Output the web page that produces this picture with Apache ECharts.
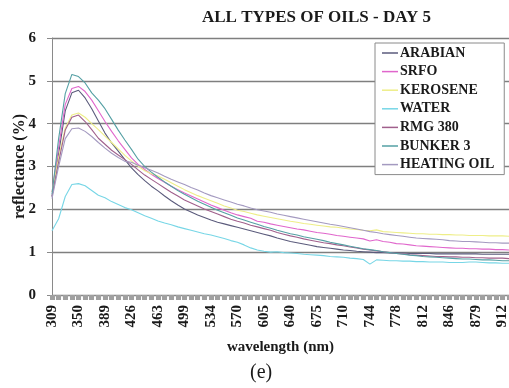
<!DOCTYPE html>
<html>
<head>
<meta charset="utf-8">
<script src="https://cdn.jsdelivr.net/npm/echarts@6/dist/echarts.min.js"></script>
<style>
  html, body { margin: 0; padding: 0; background: #fff; }
  #chart { width: 509px; height: 388px; }
</style>
</head>
<body>
<div id="chart"></div>
<script>
// Wavelength samples (nm); every 4th one is labelled on the axis
const wavelengths = [
  309, 319, 330, 340, 350, 360, 370, 379, 389, 398, 408, 417,
  426, 435, 445, 454, 463, 472, 481, 490, 499, 508, 517, 525,
  534, 543, 552, 561, 570, 579, 588, 596, 605, 614, 623, 631,
  640, 649, 658, 666, 675, 684, 693, 701, 710, 719, 727, 736,
  744, 753, 761, 770, 778, 787, 795, 804, 812, 821, 829, 838,
  846, 854, 863, 871, 879, 887, 896, 904, 912, 921
];

// Reflectance (%) of each sample
const arabian = [
  2.30, 3.30, 4.30, 4.72, 4.78, 4.60, 4.35, 4.06, 3.78, 3.55, 3.36, 3.16,
  2.97, 2.81, 2.67, 2.54, 2.43, 2.31, 2.20, 2.10, 2.01, 1.94, 1.87, 1.81,
  1.75, 1.70, 1.66, 1.62, 1.58, 1.54, 1.50, 1.46, 1.42, 1.38, 1.33, 1.29,
  1.25, 1.22, 1.19, 1.16, 1.13, 1.11, 1.09, 1.07, 1.05, 1.04, 1.02, 1.01,
  1.00, 0.99, 0.99, 0.98, 0.98, 0.98, 0.97, 0.97, 0.97, 0.97, 0.96, 0.96,
  0.96, 0.96, 0.96, 0.96, 0.96, 0.95, 0.95, 0.95, 0.95, 0.95
];
const srfo = [
  2.40, 3.45, 4.45, 4.82, 4.87, 4.75, 4.55, 4.30, 4.05, 3.82, 3.60, 3.40,
  3.20, 3.05, 2.93, 2.82, 2.72, 2.63, 2.54, 2.46, 2.38, 2.31, 2.24, 2.17,
  2.10, 2.04, 1.98, 1.92, 1.87, 1.83, 1.79, 1.72, 1.70, 1.66, 1.63, 1.60,
  1.57, 1.54, 1.52, 1.49, 1.46, 1.44, 1.42, 1.39, 1.37, 1.35, 1.33, 1.31,
  1.26, 1.29, 1.25, 1.23, 1.20, 1.19, 1.17, 1.15, 1.14, 1.13, 1.12, 1.11,
  1.10, 1.09, 1.09, 1.08, 1.08, 1.07, 1.07, 1.06, 1.06, 1.05
];
const kerosene = [
  2.40, 3.20, 3.90, 4.20, 4.25, 4.15, 4.00, 3.86, 3.71, 3.56, 3.41, 3.26,
  3.13, 3.01, 2.90, 2.83, 2.78, 2.70, 2.62, 2.54, 2.46, 2.39, 2.32, 2.26,
  2.20, 2.14, 2.08, 2.03, 1.98, 1.95, 1.91, 1.87, 1.84, 1.81, 1.78, 1.75,
  1.72, 1.70, 1.67, 1.65, 1.63, 1.61, 1.59, 1.58, 1.56, 1.54, 1.53, 1.51,
  1.50, 1.52, 1.48, 1.47, 1.46, 1.45, 1.44, 1.43, 1.43, 1.42, 1.42, 1.41,
  1.41, 1.40, 1.40, 1.39, 1.39, 1.39, 1.38, 1.38, 1.38, 1.37
];
const water = [
  1.50, 1.78, 2.30, 2.58, 2.60, 2.55, 2.44, 2.33, 2.27, 2.18, 2.11, 2.04,
  1.99, 1.92, 1.85, 1.79, 1.73, 1.68, 1.64, 1.59, 1.55, 1.51, 1.47, 1.43,
  1.40, 1.36, 1.32, 1.27, 1.23, 1.17, 1.10, 1.05, 1.02, 1.00, 1.01, 0.99,
  0.98, 0.97, 0.95, 0.94, 0.93, 0.92, 0.90, 0.89, 0.88, 0.86, 0.85, 0.83,
  0.72, 0.82, 0.81, 0.80, 0.80, 0.79, 0.79, 0.78, 0.78, 0.77, 0.77, 0.77,
  0.76, 0.76, 0.76, 0.77, 0.77, 0.76, 0.75, 0.75, 0.74, 0.74
];
const rmg380 = [
  2.30, 3.10, 3.85, 4.15, 4.20, 4.05, 3.86, 3.66, 3.52, 3.38, 3.27, 3.16,
  3.05, 2.92, 2.80, 2.70, 2.60, 2.50, 2.40, 2.31, 2.22, 2.15, 2.08, 2.01,
  1.95, 1.89, 1.83, 1.77, 1.72, 1.68, 1.63, 1.59, 1.55, 1.51, 1.46, 1.42,
  1.38, 1.35, 1.31, 1.28, 1.25, 1.22, 1.20, 1.17, 1.15, 1.12, 1.10, 1.07,
  1.05, 1.03, 1.01, 0.99, 0.97, 0.96, 0.94, 0.93, 0.92, 0.91, 0.90, 0.90,
  0.89, 0.89, 0.88, 0.88, 0.87, 0.87, 0.86, 0.86, 0.86, 0.85
];
const bunker3 = [
  2.35, 3.65, 4.70, 5.15, 5.10, 4.95, 4.72, 4.55, 4.35, 4.10, 3.85, 3.62,
  3.40, 3.17, 3.00, 2.87, 2.75, 2.64, 2.54, 2.44, 2.35, 2.27, 2.19, 2.12,
  2.05, 1.98, 1.92, 1.86, 1.80, 1.75, 1.70, 1.65, 1.60, 1.56, 1.51, 1.47,
  1.43, 1.40, 1.36, 1.33, 1.30, 1.27, 1.23, 1.20, 1.17, 1.14, 1.11, 1.08,
  1.06, 1.04, 1.01, 0.99, 0.97, 0.95, 0.93, 0.92, 0.90, 0.89, 0.88, 0.87,
  0.86, 0.85, 0.84, 0.84, 0.83, 0.82, 0.82, 0.81, 0.80, 0.80
];
const heatingOil = [
  2.25, 3.00, 3.65, 3.88, 3.90, 3.82, 3.70, 3.56, 3.43, 3.31, 3.21, 3.12,
  3.10, 3.03, 2.97, 2.91, 2.85, 2.77, 2.70, 2.64, 2.58, 2.51, 2.45, 2.38,
  2.32, 2.27, 2.22, 2.17, 2.12, 2.08, 2.03, 1.99, 1.96, 1.93, 1.89, 1.86,
  1.83, 1.80, 1.77, 1.74, 1.71, 1.68, 1.65, 1.63, 1.60, 1.57, 1.54, 1.51,
  1.48, 1.46, 1.43, 1.41, 1.39, 1.37, 1.35, 1.33, 1.32, 1.31, 1.30, 1.29,
  1.27, 1.26, 1.25, 1.25, 1.24, 1.23, 1.22, 1.22, 1.21, 1.21
];

const seriesNames = ['ARABIAN', 'SRFO', 'KEROSENE', 'WATER', 'RMG 380', 'BUNKER 3', 'HEATING OIL'];
const seriesValues = [arabian, srfo, kerosene, water, rmg380, bunker3, heatingOil];
const seriesColors = ['#5b5b7c', '#e066cc', '#eeee88', '#77d6e6', '#a0608c', '#55a0a4', '#a49ac0'];

const serif = '"Liberation Serif", "Times New Roman", serif';

const chart = echarts.init(document.getElementById('chart'), null, { renderer: 'canvas' });

chart.setOption({
  animation: false,
  backgroundColor: '#ffffff',
  title: [
    {
      text: 'ALL TYPES OF OILS - DAY 5',
      left: 197,
      top: 4,
      textStyle: { fontFamily: serif, fontWeight: 'bold', fontSize: 17, color: '#1a1a1a' }
    },
    {
      text: '(e)',
      left: 245,
      top: 358,
      textStyle: { fontFamily: serif, fontWeight: 'normal', fontSize: 20, color: '#1a1a1a' }
    }
  ],
  legend: {
    orient: 'vertical',
    left: 375,
    top: 43,
    data: seriesNames,
    icon: 'rect',
    itemWidth: 16,
    itemHeight: 1.5,
    itemGap: 2.6,
    padding: [2, 10, 2, 7],
    borderColor: '#8a8a8a',
    borderWidth: 1,
    backgroundColor: '#ffffff',
    textStyle: { fontFamily: serif, fontWeight: 'bold', fontSize: 14, color: '#1a1a1a', lineHeight: 16, padding: [0, 0, 0, -3] }
  },
  grid: { left: 52, right: 0, top: 38, bottom: 93, containLabel: false, outerBoundsMode: 'none' },
  xAxis: {
    type: 'category',
    data: wavelengths,
    boundaryGap: false,
    name: 'wavelength (nm)',
    nameLocation: 'middle',
    nameGap: 45,
    nameMoveOverlap: false,
    nameTextStyle: { fontFamily: serif, fontWeight: 'bold', fontSize: 15, color: '#1a1a1a' },
    axisLine: { show: true, lineStyle: { color: '#8a8a8a', width: 1 } },
    axisTick: { show: true, interval: 0, length: 5, lineStyle: { color: '#a0a0a0', width: 5 } },
    axisLabel: {
      interval: (idx) => idx % 4 === 0,
      rotate: 90,
      margin: 10,
      hideOverlap: false,
      fontFamily: serif,
      fontWeight: 'bold',
      fontSize: 15,
      color: '#1a1a1a'
    },
    splitLine: { show: false }
  },
  yAxis: {
    type: 'value',
    min: 0,
    max: 6,
    interval: 1,
    name: 'reflectance (%)',
    nameLocation: 'middle',
    nameGap: 24,
    nameRotate: 90,
    nameMoveOverlap: false,
    nameTextStyle: { fontFamily: serif, fontWeight: 'bold', fontSize: 16, color: '#1a1a1a' },
    axisLine: { show: true, lineStyle: { color: '#8a8a8a', width: 1 } },
    axisTick: { show: true, length: 5, lineStyle: { color: '#8a8a8a' } },
    axisLabel: { fontFamily: serif, fontWeight: 'bold', fontSize: 15, color: '#1a1a1a', margin: 16 },
    splitLine: { show: true, lineStyle: { color: '#7f7f7f', width: 1.3 } }
  },
  series: seriesNames.map((name, i) => ({
    name: name,
    type: 'line',
    data: seriesValues[i],
    showSymbol: false,
    symbol: 'none',
    smooth: false,
    color: seriesColors[i],
    lineStyle: { color: seriesColors[i], width: 1.1 },
    emphasis: { disabled: true }
  }))
});
</script>
</body>
</html>
